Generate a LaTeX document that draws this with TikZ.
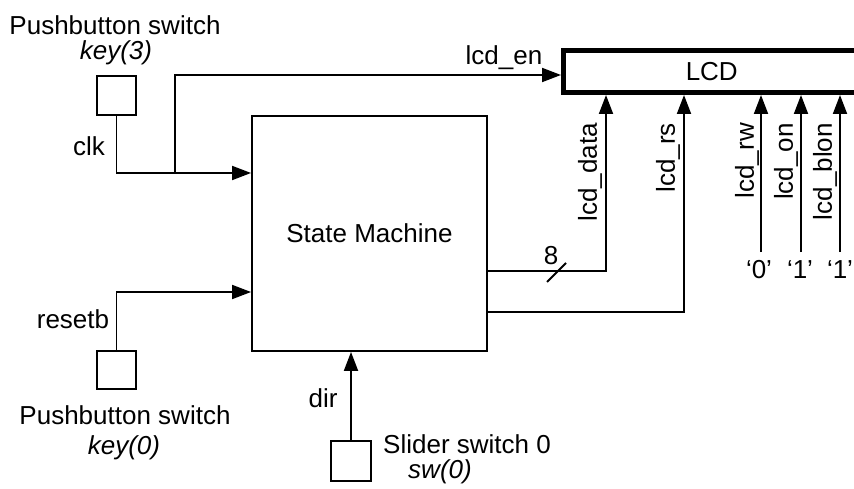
\documentclass[tikz,border=0pt]{standalone}
\usepackage{fontspec}
\setmainfont{Liberation Sans}
\usetikzlibrary{arrows.meta}
\begin{document}
\begin{tikzpicture}[x=1pt,y=-1pt,
  wire/.style={line width=1.9pt},
  sig/.style={wire,-{Triangle[length=19pt,width=14pt]}},
  box/.style={draw,line width=1.9pt,inner sep=0pt},
  lbl/.style={inner sep=0pt,font=\fontsize{26}{30}\selectfont},
  vlbl/.style={lbl,rotate=90,anchor=east}]
\useasboundingbox (0,0) rectangle (854,489);
\clip (0,0) rectangle (854,489);
% boxes
\node[box,minimum width=39pt,minimum height=39pt] (k3) at (116.5,95.5) {};
\node[box,minimum width=39pt,minimum height=38pt] (k0) at (116.5,370) {};
\node[box,minimum width=40pt,minimum height=40pt] (sw) at (351,461) {};
\node[box,lbl,draw,line width=1.9pt,minimum width=235pt,minimum height=235pt] (sm) at (369.5,233.5) {State Machine};
\node[lbl,draw,line width=5pt,minimum width=296.5pt,minimum height=42pt] (lcd) at (711.75,71.5) {LCD};
% texts
\node[lbl] (t1) at (115,25) {Pushbutton switch};
\node[lbl] (t2) at (116,53) {\itshape key(3)};
\node[lbl] (clk) at (89,146) {clk};
\node[lbl] (rst) at (73,319) {resetb};
\node[lbl] (t3) at (125,415) {Pushbutton switch};
\node[lbl] (t4) at (124,448) {\itshape key(0)};
\node[lbl] (dir) at (323,398) {dir};
\node[lbl,anchor=west] (t5) at (383,444) {Slider switch 0};
\node[lbl] (t6) at (440,472) {\itshape sw(0)};
\node[lbl] (en) at (504,58) {lcd\_en};
\node[lbl] (eight) at (551,256) {8};
\node[vlbl] (ld) at (590,123) {lcd\_data};
\node[vlbl] (lr) at (668,123) {lcd\_rs};
\node[vlbl] (lw) at (747,123) {lcd\_rw};
\node[vlbl] (lo) at (786,123) {lcd\_on};
\node[vlbl] (lb) at (825,123) {lcd\_blon};
\node[lbl] (c0) at (759,270) {‘0’};
\node[lbl] (c1) at (800,270) {‘1’};
\node[lbl] (c2) at (840,270) {‘1’};
% coordinates
\coordinate (br) at (175,173);
\coordinate (enY) at (0,75);
\coordinate (rY) at (0,292);
\coordinate (dY) at (0,271);
\coordinate (dX) at (606,0);
\coordinate (sY) at (0,312);
\coordinate (sX) at (684,0);
\coordinate (w0) at (761,252);
\coordinate (w1) at (801,252);
\coordinate (w2) at (840,252);
\coordinate (sl1) at (547,282);
\coordinate (sl2) at (566,263);
% connectors
\draw[wire] (k3.south) |- (br);
\draw[sig] (br) -- (sm.west |- br);
\draw[sig] (br) |- (lcd.west |- enY);
\draw[sig] (k0.north) |- (sm.west |- rY);
\draw[sig] (sw.north) -- (sw.north |- sm.south);
\draw[sig] (sm.east |- dY) -| (dX |- lcd.south);
\draw[wire] (sl1) -- (sl2);
\draw[sig] (sm.east |- sY) -| (sX |- lcd.south);
\draw[sig] (w0) -- (w0 |- lcd.south);
\draw[sig] (w1) -- (w1 |- lcd.south);
\draw[sig] (w2) -- (w2 |- lcd.south);
\end{tikzpicture}
\end{document}
